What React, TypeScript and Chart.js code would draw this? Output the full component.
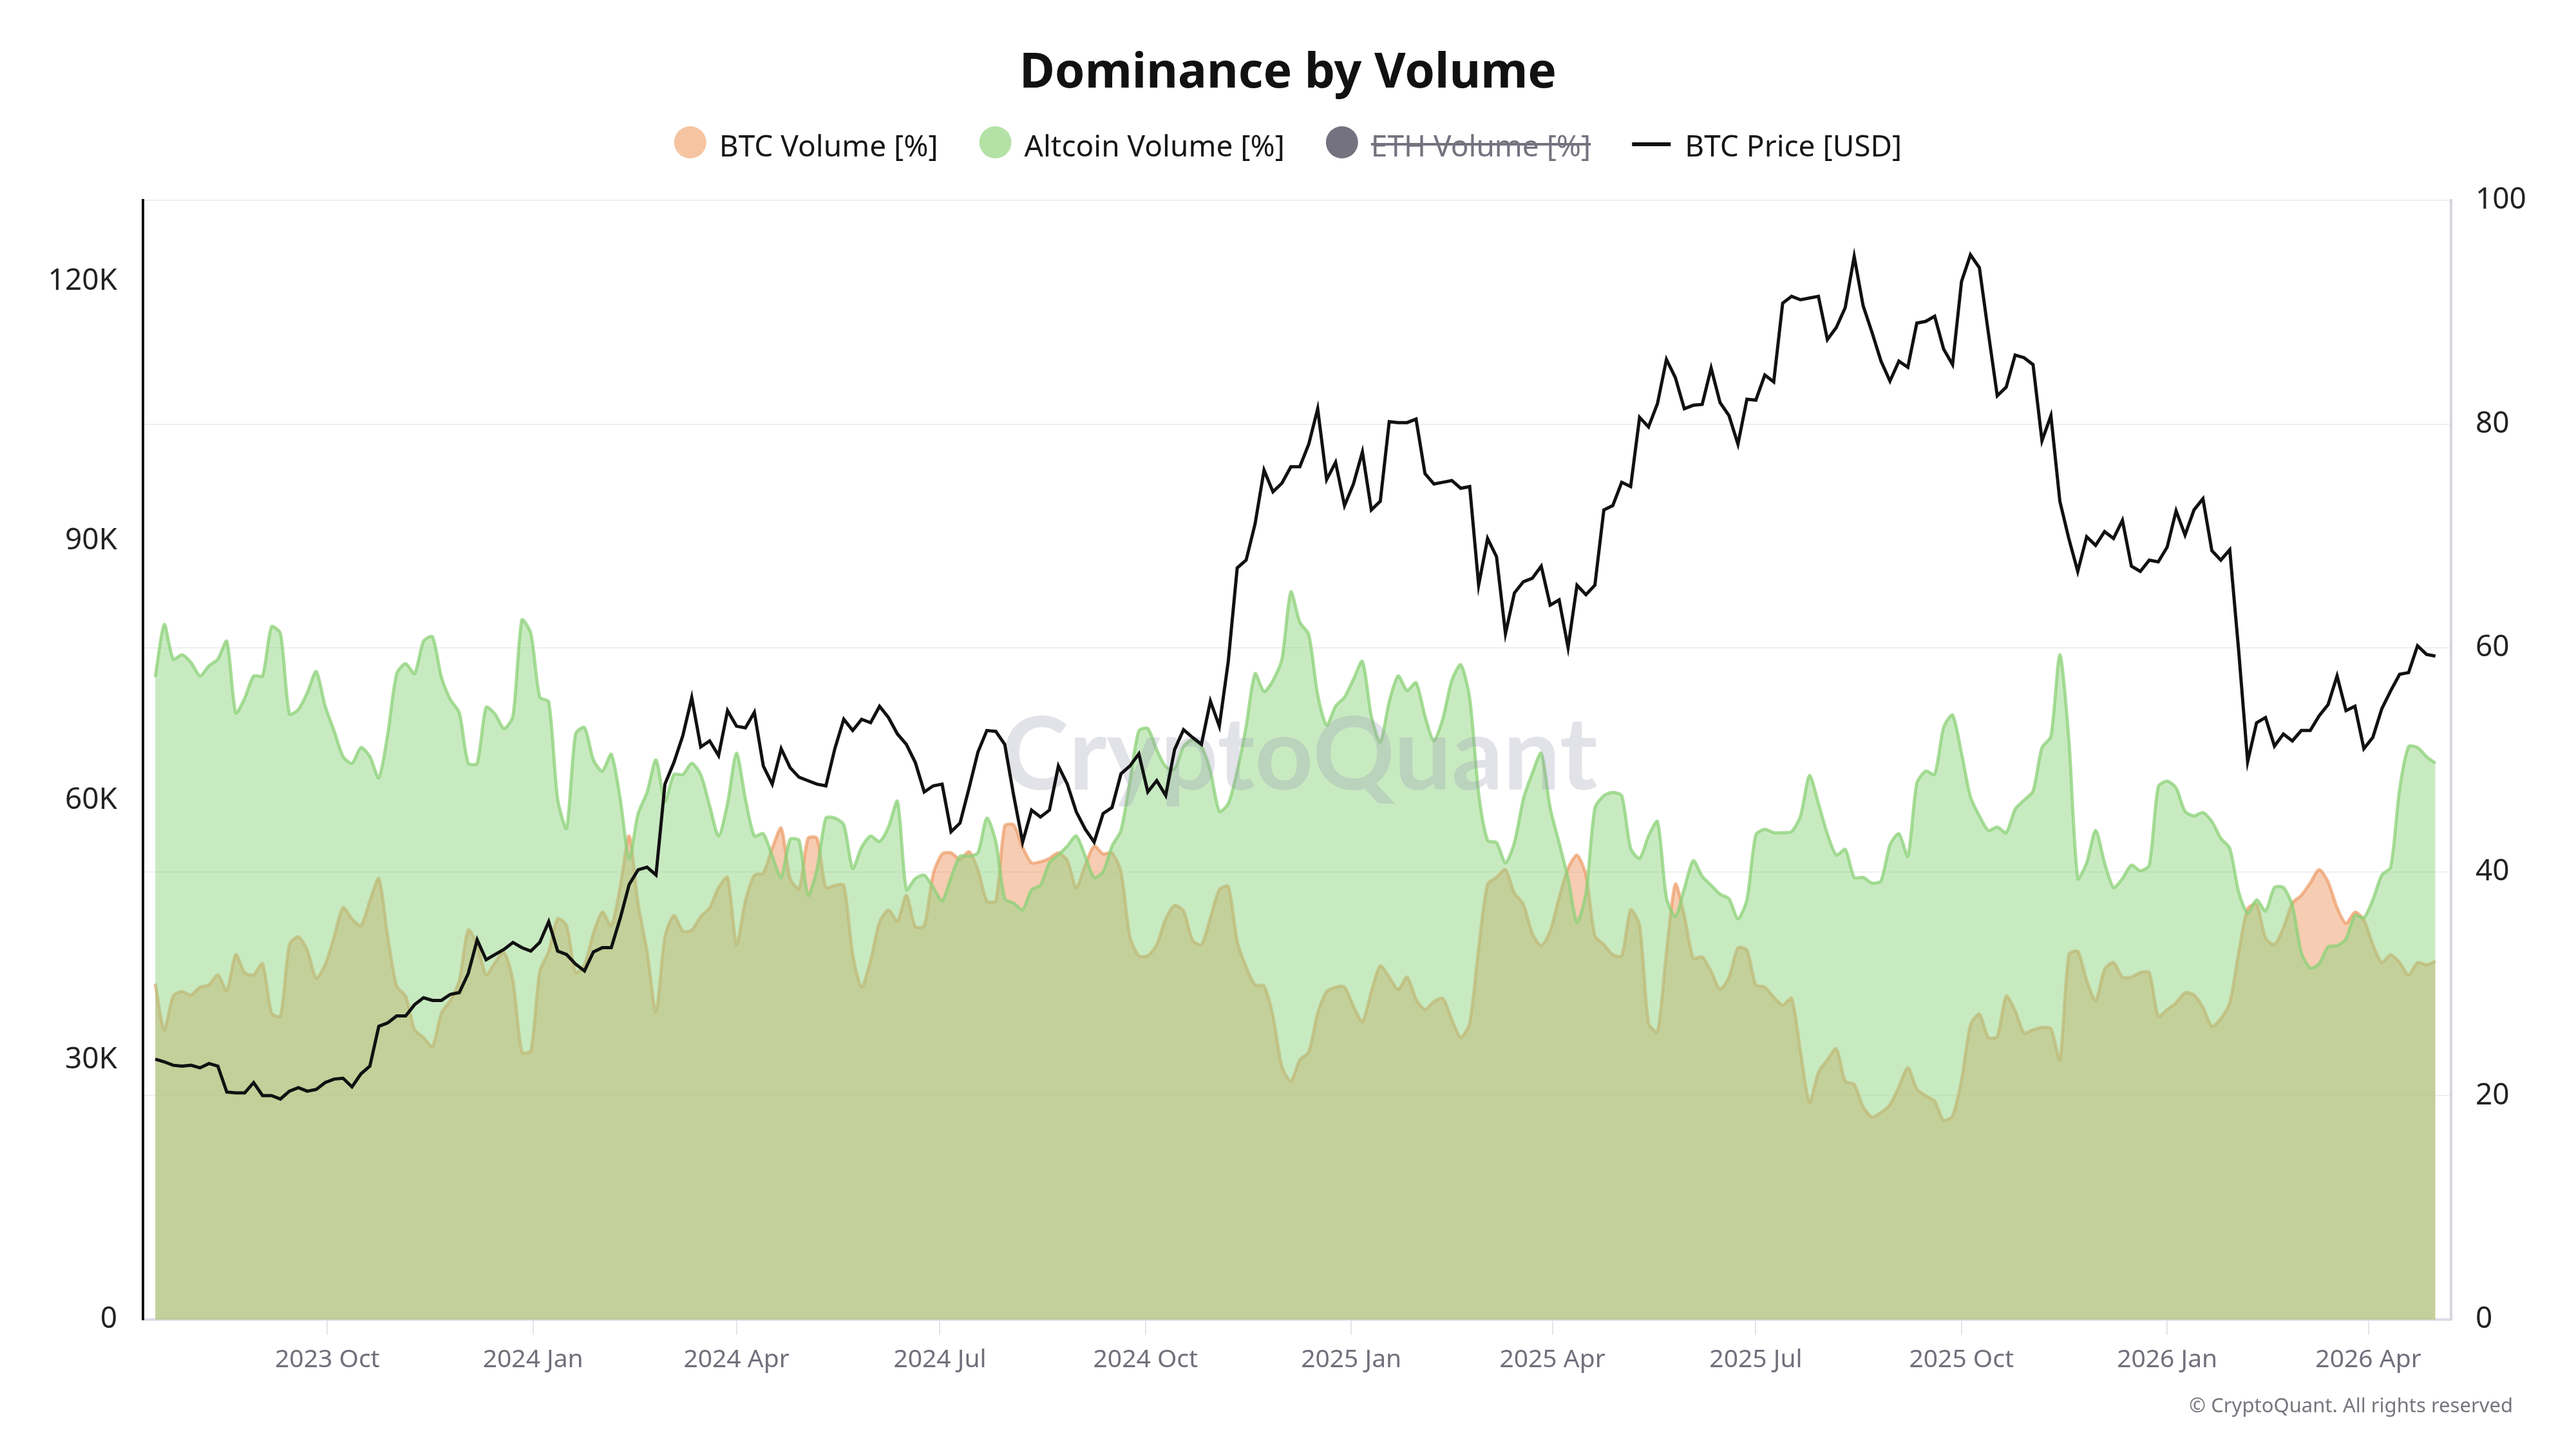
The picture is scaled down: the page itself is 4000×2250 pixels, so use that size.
import React, { useEffect, useRef } from 'react';
import { Chart, registerables } from 'chart.js';

Chart.register(...registerables);

// ---------- data ----------
const START_DATE = '2023-07-16';
const DAY_STEP = 4;

const tickDates = [
  '2023-10-01', '2024-01-01', '2024-04-01', '2024-07-01', '2024-10-01', '2025-01-01',
  '2025-04-01', '2025-07-01', '2025-10-01', '2026-01-01', '2026-04-01',
];
const tickLabels = [
  '2023 Oct', '2024 Jan', '2024 Apr', '2024 Jul', '2024 Oct', '2025 Jan',
  '2025 Apr', '2025 Jul', '2025 Oct', '2026 Jan', '2026 Apr',
];

const priceTicks = [0, 30000, 60000, 90000, 120000];

const btcVolume = [
  30.0, 25.9, 28.9, 29.3, 29.0, 29.7, 29.9, 30.8, 29.4, 32.6, 31.0, 30.8, 31.8, 27.4, 27.1, 33.5,
  34.2, 33.0, 30.5, 31.7, 34.2, 36.8, 35.8, 35.2, 37.4, 39.4, 34.2, 29.8, 28.9, 25.9, 25.2, 24.4,
  27.4, 28.5, 30.3, 34.8, 33.5, 30.8, 31.9, 32.8, 30.3, 23.9, 24.0, 31.1, 32.9, 35.8, 35.2, 31.0,
  31.7, 34.5, 36.4, 35.2, 38.7, 43.2, 37.1, 32.9, 27.5, 34.2, 36.1, 34.7, 34.8, 36.0, 36.8, 38.6,
  39.5,
  33.5, 37.4, 39.7, 39.9, 42.1, 43.9, 39.4, 38.5, 43.0, 43.0, 38.6, 38.8, 38.8, 32.6, 29.7, 32.1,
  35.5, 36.6, 35.6, 37.9, 35.1, 35.2, 39.8, 41.6, 41.7, 41.1, 41.8, 40.2, 37.4, 37.4, 44.1, 44.2,
  42.2, 40.8, 40.9, 41.2, 41.7, 41.0, 38.6, 40.6, 42.3, 41.6, 41.7, 40.0, 34.2, 32.5, 32.5, 33.5,
  35.8, 37.0, 36.5, 33.9, 33.5, 35.9, 38.4, 38.7, 33.8, 31.5, 29.9, 29.8, 27.1, 22.6, 21.3, 23.2,
  23.9, 27.4, 29.3, 29.7, 29.7, 28.0, 26.6, 29.3, 31.6, 30.6, 29.5, 30.6, 28.6, 27.7, 28.4, 28.7,
  26.8, 25.2, 26.5, 33.2, 38.9, 39.5, 40.2, 38.1, 37.1, 34.5, 33.4, 34.7, 37.7, 40.3, 41.5, 39.7,
  34.3, 33.5, 32.6, 32.5, 36.6, 35.2, 26.5, 25.7, 32.8, 38.9, 36.1, 32.3, 32.4, 31.1, 29.5, 30.6,
  33.2, 33.0, 29.9, 29.7, 28.8, 28.1, 28.7, 23.9, 19.4, 22.1, 23.2, 24.2, 21.3, 21.0, 19.0, 18.1,
  18.5,
  19.2, 20.8, 22.5, 20.6, 20.0, 19.5, 17.8, 18.2, 21.4, 26.3, 27.3, 25.2, 25.3, 28.9, 27.6, 25.6,
  25.9, 26.1, 26.0, 23.2, 32.6, 32.9, 30.3, 28.5, 31.3, 31.9, 30.6, 30.6, 31.0, 31.0, 27.1, 27.7,
  28.3, 29.2, 29.0, 27.9, 26.2, 26.9, 28.3, 32.8, 36.7, 37.1, 34.1, 33.5, 35.0, 37.2, 37.9, 39.0,
  40.2, 39.1, 36.8, 35.4, 36.4, 35.7, 33.5, 31.9, 32.6, 31.9, 30.8, 31.9, 31.7, 32.0,
];

const altcoinVolume = [
  57.4, 62.1, 59.0, 59.4, 58.7, 57.5, 58.4, 59.0, 60.6, 54.2, 55.5, 57.5, 57.5, 61.9, 61.3, 54.1,
  54.5, 56.0, 57.9, 54.8, 52.6, 50.3, 49.7, 51.1, 50.3, 48.4, 52.3, 57.7, 58.6, 57.7, 60.6, 61.0,
  57.4, 55.4, 54.2, 49.7, 49.7, 54.7, 54.1, 52.8, 53.9, 62.5, 61.3, 55.6, 55.2, 46.5, 43.9, 52.3,
  52.9, 50.0, 49.0, 50.5, 46.5, 41.2, 45.2, 47.1, 50.0, 46.3, 48.7, 48.7, 49.7, 48.7, 45.9, 43.2,
  46.1,
  50.6, 46.5, 43.2, 43.4, 41.4, 39.5, 42.9, 42.8, 37.9, 40.2, 44.8, 44.8, 44.2, 40.3, 42.2, 43.2,
  42.7, 44.0, 46.3, 38.4, 39.4, 39.7, 38.6, 37.4, 39.5, 41.4, 41.4, 41.7, 44.8, 42.7, 37.6, 37.2,
  36.6, 38.4, 38.8, 40.8, 41.5, 42.3, 43.2, 41.4, 39.5, 40.0, 42.3, 43.7, 48.1, 52.6, 52.8, 50.9,
  49.4, 49.2, 51.2, 51.8, 51.2, 49.0, 45.4, 46.1, 49.0, 53.0, 57.7, 56.1, 57.1, 59.0, 65.0, 62.3,
  61.2, 55.8, 53.1, 54.8, 55.6, 57.2, 58.8, 53.9, 51.6, 55.2, 57.5, 56.2, 56.9, 53.9, 51.7, 53.7,
  57.1, 58.5, 55.5, 47.0, 42.8, 42.6, 40.8, 42.6, 46.5, 48.8, 50.6, 45.7, 42.6, 39.4, 35.5, 38.1,
  45.7, 46.8, 47.1, 46.8, 42.1, 41.2, 43.2, 44.5, 37.7, 36.0, 38.5, 41.0, 39.6, 38.8, 38.0, 37.6,
  35.8, 37.5, 43.3, 43.8, 43.5, 43.5, 43.6, 45.0, 48.6, 46.1, 43.4, 41.5, 42.0, 39.5, 39.5, 39.0,
  39.2,
  42.4, 43.4, 41.4, 47.9, 49.0, 48.7, 52.9, 54.0, 50.6, 46.7, 45.0, 43.7, 44.0, 43.5, 45.6, 46.4,
  47.2, 51.1, 52.1, 59.4, 51.9, 39.4, 40.8, 43.7, 40.8, 38.6, 39.4, 40.6, 40.1, 40.6, 47.6, 48.1,
  47.5, 45.4, 45.0, 45.3, 44.5, 43.0, 42.1, 38.2, 36.3, 37.5, 36.5, 38.6, 38.6, 37.0, 32.8, 31.4,
  31.8, 33.3, 33.4, 34.0, 36.1, 35.9, 37.5, 39.7, 40.4, 47.4, 51.2, 51.1, 50.3, 49.7,
];

const btcPrice = [
  30100, 29800, 29400, 29300, 29400, 29100, 29600, 29300, 26300, 26200, 26200, 27400, 25900, 25900, 25500, 26400,
  26800, 26400, 26600, 27400, 27800, 27900, 26900, 28400, 29300, 33900, 34300, 35100, 35100, 36400, 37200, 36900,
  36900, 37600, 37800, 40000, 43900, 41600, 42200, 42800, 43600, 43000, 42600, 43600, 46000, 42600, 42200, 41100,
  40300, 42500, 43000, 43000, 46400, 50300, 52000, 52300, 51400, 61900, 64400, 67500, 71900, 66200, 66900, 65200,
  70400,
  68600, 68400, 70200, 64000, 61900, 66000, 63800, 62700, 62300, 61900, 61700, 66000, 69400, 68100, 69400, 69000,
  70900, 69600, 67700, 66500, 64400, 61000, 61700, 61900, 56400, 57400, 61400, 65600, 68100, 68000, 66500, 60600,
  55200, 58900, 58100, 58900, 64000, 61900, 58700, 56700, 55200, 58500, 59200, 63100, 64000, 65400, 61000, 62300,
  60600, 65900, 68200, 67300, 66500, 71500, 68600, 76100, 86900, 87800, 92000, 98200, 95700, 96700, 98600, 98600,
  101200, 105300, 97100, 99100, 94100, 96600, 100300, 93600, 94600, 103800, 103700, 103700, 104100, 97800, 96600, 96800,
  97000, 96100, 96300, 84900, 90300, 88200, 79300, 84000, 85300, 85700, 87100, 82600, 83200, 77700, 84900, 83800,
  84900, 93600, 94100, 96800, 96300, 104300, 103200, 105900, 111000, 108900, 105300, 105700, 105800, 110000, 106000, 104500,
  101200, 106400, 106300, 109200, 108400, 117500, 118300, 117900, 118100, 118300, 113300, 114700, 117000, 122900, 117200, 114100,
  110800,
  108500, 110800, 110100, 115200, 115400, 116000, 112200, 110400, 120000, 123100, 121600, 114100, 106800, 107800, 111500, 111200,
  110400, 101600, 104500, 94600, 90300, 86500, 90500, 89500, 91100, 90300, 92400, 87100, 86500, 87800, 87600, 89300,
  93500, 90700, 93600, 94900, 88900, 87800, 89000, 77300, 64500, 69000, 69600, 66300, 67700, 66900, 68100, 68100,
  69800, 71100, 74400, 70400, 70900, 66000, 67300, 70600, 72700, 74600, 74800, 77900, 76900, 76700,
];

const legendColors = ['#f5c4a0', '#b4e2a6', '#75727f', '#111111'];

// ---------- helpers ----------
const DAY_MS = 86400000;
const startMs = Date.parse(START_DATE);
const tickDays = tickDates.map((d) => Math.round((Date.parse(d) - startMs) / DAY_MS));
const toPoints = (arr: number[]) => arr.map((v, i) => ({ x: i * DAY_STEP, y: v }));

const FONT = "'Noto Sans', 'Open Sans', sans-serif";

const decorPlugin = {
  id: 'decor',
  afterDatasetDraw(chart: any, args: any) {
    if (args.index !== 1) return;
    const { ctx, chartArea } = chart;
    ctx.save();
    ctx.beginPath();
    ctx.rect(chartArea.left, chartArea.top, chartArea.right - chartArea.left, chartArea.bottom - chartArea.top);
    ctx.clip();
    ctx.font = "700 158px Lato, 'Noto Sans', sans-serif";
    ctx.fillStyle = 'rgba(150,150,175,0.28)';
    ctx.textAlign = 'center';
    ctx.textBaseline = 'alphabetic';
    ctx.fillText('CryptoQuant', (chartArea.left + chartArea.right) / 2 + 4, chartArea.top + 915);
    ctx.restore();
  },
  afterDraw(chart: any) {
    const { ctx } = chart;
    const datasets = chart.data.datasets;
    ctx.save();
    // legend
    const fontSize = 46;
    ctx.font = `${fontSize}px ${FONT}`;
    const gap = 64;
    const items = datasets.map((ds: any, i: number) => {
      const isLine = !ds.fill;
      const tw = ctx.measureText(ds.label).width;
      const markerW = isLine ? 82 : 70;
      return { label: ds.label, isLine, tw, markerW, w: markerW + tw, hidden: !!ds.hidden, color: legendColors[i] };
    });
    const total = items.reduce((s: number, it: any) => s + it.w, 0) + gap * (items.length - 1);
    let x = chart.width / 2 - total / 2;
    const cy = 221;
    const baseline = 243;
    items.forEach((it: any) => {
      if (it.isLine) {
        ctx.strokeStyle = it.color;
        ctx.lineWidth = 6;
        ctx.beginPath();
        ctx.moveTo(x, cy + 3);
        ctx.lineTo(x + 60, cy + 3);
        ctx.stroke();
      } else {
        ctx.fillStyle = it.color;
        ctx.beginPath();
        ctx.arc(x + 25, cy, 25, 0, Math.PI * 2);
        ctx.fill();
      }
      const tx = x + it.markerW;
      ctx.fillStyle = it.hidden ? '#75727f' : '#161616';
      ctx.textAlign = 'left';
      ctx.textBaseline = 'alphabetic';
      ctx.fillText(it.label, tx, baseline);
      if (it.hidden) {
        ctx.strokeStyle = '#75727f';
        ctx.lineWidth = 4;
        ctx.beginPath();
        ctx.moveTo(tx, cy + 3);
        ctx.lineTo(tx + it.tw, cy + 3);
        ctx.stroke();
      }
      x += it.w + gap;
    });
    // copyright
    ctx.font = `31px ${FONT}`;
    ctx.fillStyle = '#76767e';
    ctx.textAlign = 'right';
    ctx.textBaseline = 'alphabetic';
    ctx.fillText('\u00A9 CryptoQuant. All rights reserved', 3902, 2193);
    ctx.restore();
  },
};

export default function App() {
  const ref = useRef<HTMLCanvasElement | null>(null);

  useEffect(() => {
    document.body.style.margin = '0';
    Chart.defaults.font.family = FONT;
    const canvas = ref.current;
    if (!canvas) return;

    const chart = new Chart(canvas, {
      type: 'line',
      data: {
        datasets: [
          {
            label: 'BTC Volume [%]',
            data: toPoints(btcVolume),
            yAxisID: 'y2',
            fill: 'origin',
            backgroundColor: 'rgba(237,153,101,0.5)',
            borderColor: 'rgba(236,150,96,0.65)',
            borderWidth: 5,
            pointRadius: 0,
            tension: 0.25,
            order: 2,
          },
          {
            label: 'Altcoin Volume [%]',
            data: toPoints(altcoinVolume),
            yAxisID: 'y2',
            fill: 'origin',
            backgroundColor: 'rgba(145,213,131,0.5)',
            borderColor: 'rgba(140,210,120,0.75)',
            borderWidth: 5,
            pointRadius: 0,
            tension: 0.25,
            order: 1,
          },
          {
            label: 'ETH Volume [%]',
            data: [],
            yAxisID: 'y2',
            fill: 'origin',
            hidden: true,
            backgroundColor: 'rgba(117,114,127,0.5)',
            borderColor: '#75727f',
            pointRadius: 0,
            order: 3,
          },
          {
            label: 'BTC Price [USD]',
            data: toPoints(btcPrice),
            yAxisID: 'y1',
            fill: false,
            borderColor: '#111111',
            borderWidth: 5,
            borderJoinStyle: 'miter',
            pointRadius: 0,
            tension: 0,
            order: 0,
          },
        ] as any,
      },
      options: {
        animation: false,
        responsive: false,
        devicePixelRatio: 1,
        events: [],
        layout: { padding: 0 },
        plugins: {
          legend: { display: false },
          tooltip: { enabled: false },
          title: {
            display: true,
            text: 'Dominance by Volume',
            color: '#111111',
            font: { size: 75, weight: 'bold', family: FONT },
            padding: { top: 70, bottom: 151 },
          },
        },
        scales: {
          x: {
            type: 'linear',
            min: -5.5,
            max: 1027,
            afterBuildTicks: (scale: any) => {
              scale.ticks = tickDays.map((v) => ({ value: v }));
            },
            afterFit: (scale: any) => {
              scale.height = 201;
            },
            grid: {
              drawOnChartArea: false,
              drawTicks: true,
              tickLength: 24,
              color: '#e4e4ea',
              lineWidth: 2,
            },
            border: { display: true, color: '#dedce8', width: 4 },
            ticks: {
              autoSkip: false,
              maxRotation: 0,
              padding: 15,
              color: '#70707c',
              font: { size: 39 },
              callback: (value: any) => {
                const idx = tickDays.indexOf(Number(value));
                return idx >= 0 ? tickLabels[idx] : '';
              },
            },
          },
          y1: {
            type: 'linear',
            position: 'left',
            min: 0,
            max: 129400,
            afterBuildTicks: (scale: any) => {
              scale.ticks = priceTicks.map((v) => ({ value: v }));
            },
            afterFit: (scale: any) => {
              scale.width = 222;
            },
            grid: { display: false, drawTicks: false },
            border: { display: true, color: '#111111', width: 4 },
            ticks: {
              padding: 40,
              color: '#222222',
              font: { size: 46 },
              callback: (v: any) => (Number(v) === 0 ? '0' : `${Number(v) / 1000}K`),
            },
          },
          y2: {
            type: 'linear',
            position: 'right',
            min: 0,
            max: 100,
            afterFit: (scale: any) => {
              scale.width = 194;
            },
            grid: { color: '#efeff1', lineWidth: 2, drawTicks: false },
            border: { display: true, color: '#d6d6dc', width: 4 },
            ticks: {
              stepSize: 20,
              padding: 38,
              color: '#222222',
              font: { size: 46 },
            },
          },
        },
      } as any,
      plugins: [decorPlugin],
    });

    return () => chart.destroy();
  }, []);

  return (
    <div style={{ width: 4000, height: 2250 }}>
      <canvas ref={ref} width={4000} height={2250} style={{ display: 'block', width: 4000, height: 2250 }} />
    </div>
  );
}
